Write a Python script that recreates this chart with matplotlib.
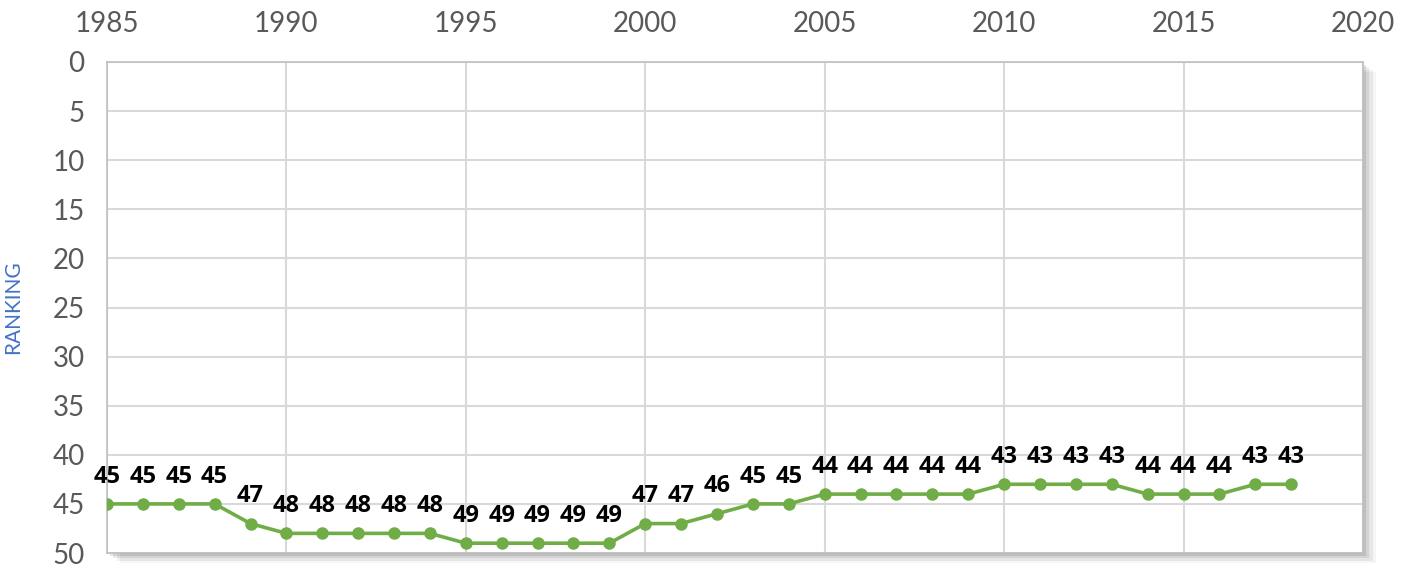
import matplotlib
matplotlib.use('Agg')
import matplotlib.pyplot as plt
import matplotlib.patches as mpatches

# Data
years = list(range(1985, 2019))
ranking = [45, 45, 45, 45, 47, 48, 48, 48, 48, 48,
           49, 49, 49, 49, 49, 47, 47, 46, 45, 45,
           44, 44, 44, 44, 44, 43, 43, 43, 43, 44,
           44, 44, 43, 43]
xticks = list(range(1985, 2021, 5))
yticks = list(range(0, 51, 5))

plt.rcParams['font.family'] = ['Lato', 'DejaVu Sans']

fig = plt.figure(figsize=(14.13, 5.65), dpi=100)
ax = fig.add_axes([0.0757, 0.0212, 0.8889, 0.8691])

# soft shadow behind the plot area
for i, a in enumerate([0.10, 0.08, 0.06, 0.04]):
	off = (i + 1) * 0.0015
	shadow = mpatches.Rectangle((0.0757 + off * 1.5, 0.0212 - off * 3.0), 0.8889, 0.8691,
	                            transform=fig.transFigure, facecolor='black', alpha=a,
	                            edgecolor='none', zorder=-10)
	fig.patches.append(shadow)

ax.set_facecolor('white')
ax.plot(years, ranking, color='#70AD47', lw=2.6, marker='o', markersize=8, zorder=3)

for x, y in zip(years, ranking):
	ax.annotate(str(y), (x, y), xytext=(0, 11), textcoords='offset points',
	            ha='center', va='bottom', fontsize=17, fontweight='bold',
	            family='Open Sans', color='black')

ax.set_xlim(1985, 2020)
ax.set_ylim(50, 0)
ax.set_xticks(xticks)
ax.set_yticks(yticks)
ax.xaxis.tick_top()
ax.tick_params(axis='both', length=0, labelsize=20, colors='#595959')
ax.tick_params(axis='x', pad=18)
ax.tick_params(axis='y', pad=16)
ax.grid(True, color='#d9d9d9', lw=1.5)
ax.set_axisbelow(True)
for s in ax.spines.values():
	s.set_color('#bfbfbf')
	s.set_linewidth(1.2)

ax.set_ylabel('RANKING', color='#4472C4', fontsize=15)
ax.yaxis.set_label_coords(-0.067, 0.5)

fig.savefig('out.png', dpi=100)
